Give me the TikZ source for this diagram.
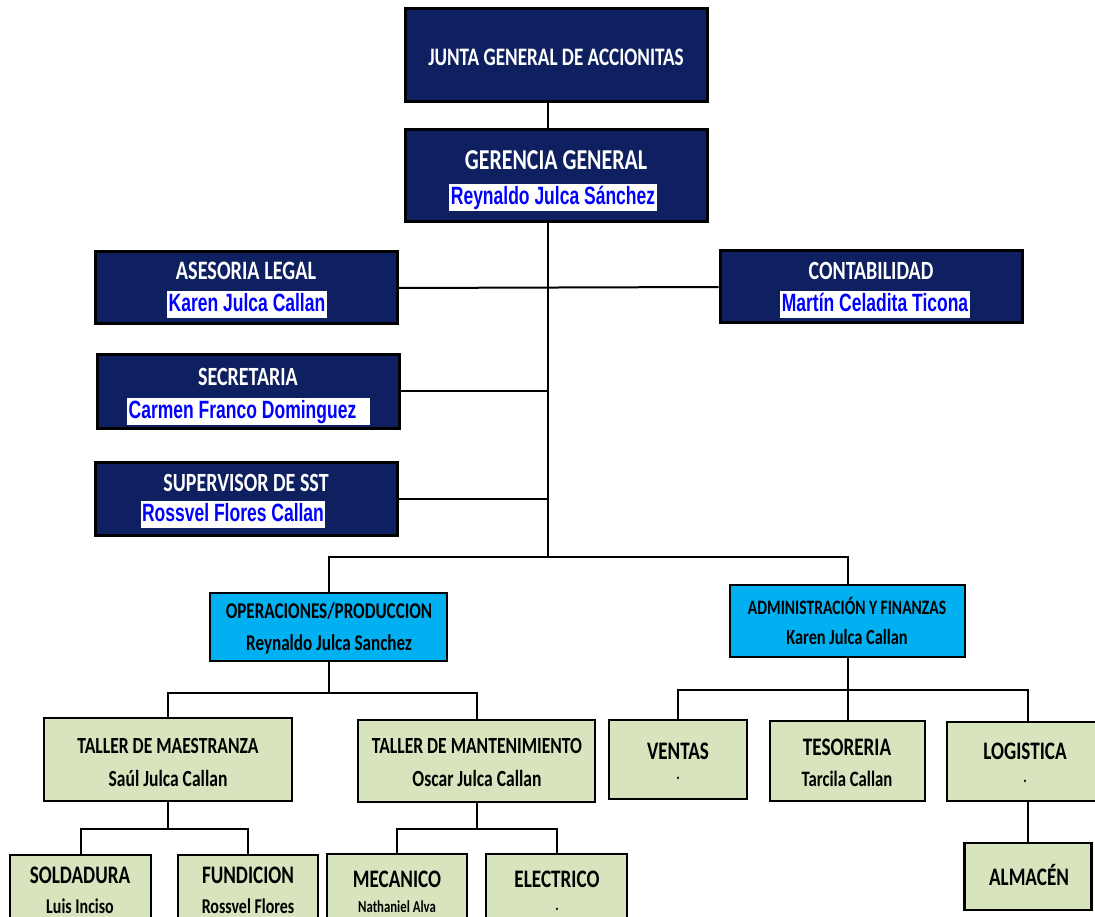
\documentclass[tikz,border=0pt]{standalone}
\usepackage{fontspec}
\usetikzlibrary{calc}
\newfontfamily\calfont[FakeStretch=0.76]{Carlito}
\newfontfamily\arfont[FakeStretch=0.7]{Liberation Sans}
\definecolor{navy}{RGB}{14,32,96}
\definecolor{opblue}{RGB}{0,176,240}
\definecolor{sage}{RGB}{215,228,189}
\tikzset{
	navybox/.style={draw=black, line width=3pt, fill=navy, inner sep=0pt},
	bluebox/.style={draw=black, line width=2.2pt, fill=opblue, inner sep=0pt},
	sagebox/.style={draw=black, line width=2.2pt, fill=sage, inner sep=0pt},
	ttl/.style={anchor=base, inner sep=0pt, font=\calfont\bfseries\fontsize{#1}{#1}\selectfont},
	bname/.style={anchor=base, inner sep=1.5pt, fill=white, text=blue, text height=19pt, text depth=5pt,
			font=\arfont\bfseries\fontsize{25}{25}\selectfont},
	link/.style={draw=black, line width=2pt}
}

\begin{document}
\begin{tikzpicture}[x=1pt, y=-1pt]
		\path[use as bounding box, fill=white] (0,0) rectangle (1095,917);
		\clip (0,0) rectangle (1095,917);
		% Boxes
		\node[navybox, minimum width=302pt, minimum height=93pt] (jun) at (556,55.5) {};
		\node[navybox, minimum width=302pt, minimum height=92pt] (ger) at (556,176) {};
		\node[navybox, minimum width=302pt, minimum height=72pt] (ase) at (246,288) {};
		\node[navybox, minimum width=302pt, minimum height=72pt] (con) at (871,287) {};
		\node[navybox, minimum width=302pt, minimum height=74pt] (sec) at (248,391) {};
		\node[navybox, minimum width=302pt, minimum height=73pt] (sup) at (246,498.5) {};
		\node[bluebox, minimum width=237pt, minimum height=68pt] (ope) at (328.5,627) {};
		\node[bluebox, minimum width=235pt, minimum height=72pt] (adm) at (847.5,621) {};
		\node[sagebox, minimum width=248pt, minimum height=83pt] (tma) at (168,759.5) {};
		\node[sagebox, minimum width=237pt, minimum height=82pt] (tmt) at (476.5,761) {};
		\node[sagebox, minimum width=141pt, minimum height=90pt] (sol) at (80.5,900) {};
		\node[sagebox, minimum width=140pt, minimum height=90pt] (fun) at (248,900) {};
		\node[sagebox, minimum width=140pt, minimum height=90pt] (mec) at (397,899) {};
		\node[sagebox, minimum width=141pt, minimum height=90pt] (ele) at (556.5,899) {};
		\node[sagebox, minimum width=138pt, minimum height=79pt] (ven) at (678,759.5) {};
		\node[sagebox, minimum width=155pt, minimum height=80pt] (tes) at (847.5,761) {};
		\node[sagebox, minimum width=162pt, minimum height=79pt] (log) at (1028,761.5) {};
		\node[sagebox, minimum width=127pt, minimum height=67pt] (alm) at (1028,876.5) {};
		% Texts
		\node[ttl=25.2, text=white] (jun-t) at (556,66) {JUNTA GENERAL DE ACCIONITAS};
		\node[ttl=28.8, text=white] (ger-t) at (556,170) {GERENCIA GENERAL};
		\node[bname] (ger-n) at (553,205) {Reynaldo Julca Sánchez};
		\node[ttl=26.6, text=white] (ase-t) at (246,280) {ASESORIA LEGAL};
		\node[bname] (ase-n) at (247,312) {Karen Julca Callan};
		\node[ttl=26.3, text=white] (con-t) at (871,280) {CONTABILIDAD};
		\node[bname] (con-n) at (875,312) {Martín Celadita Ticona};
		\node[ttl=26.3, text=white] (sec-t) at (248,385) {SECRETARIA};
		\node[bname] (sec-n) at (248.5,418) {Carmen Franco Dominguez\kern12pt};
		\node[ttl=26.3, text=white] (sup-t) at (246,491) {SUPERVISOR DE SST};
		\node[bname] (sup-n) at (233,521) {Rossvel Flores Callan};
		\node[ttl=22.5] (ope-t) at (329,618) {OPERACIONES/PRODUCCION};
		\node[ttl=22.5] (ope-n) at (329,650) {Reynaldo Julca Sanchez};
		\node[ttl=20.5] (adm-t) at (847,614) {ADMINISTRACIÓN Y FINANZAS};
		\node[ttl=21.5] (adm-n) at (847,644) {Karen Julca Callan};
		\node[ttl=23.1] (tma-t) at (168,753) {TALLER DE MAESTRANZA};
		\node[ttl=23.1] (tma-n) at (168,786) {Saúl Julca Callan};
		\node[ttl=23.1] (tmt-t) at (477,753) {TALLER DE MANTENIMIENTO};
		\node[ttl=23.1] (tmt-n) at (477,786) {Oscar Julca Callan};
		\node[ttl=25.2] (sol-t) at (80,883) {SOLDADURA};
		\node[ttl=21] (sol-n) at (80,913) {Luis Inciso};
		\node[ttl=25.2] (fun-t) at (248,883) {FUNDICION};
		\node[ttl=21] (fun-n) at (248,913) {Rossvel Flores};
		\node[ttl=25.2] (mec-t) at (397,887) {MECANICO};
		\node[ttl=16.8] (mec-n) at (397,912) {Nathaniel Alva};
		\node[ttl=25.2] (ele-t) at (557,887) {ELECTRICO};
		\node[ttl=16.8] (ele-n) at (557,910) {.};
		\node[ttl=25.2] (ven-t) at (678,759) {VENTAS};
		\node[ttl=16.8] (ven-n) at (678,779) {.};
		\node[ttl=25.2] (tes-t) at (847,755) {TESORERIA};
		\node[ttl=22] (tes-n) at (847,786) {Tarcila Callan};
		\node[ttl=25.2] (log-t) at (1025,759) {LOGISTICA};
		\node[ttl=16.8] (log-n) at (1025,782) {.};
		\node[ttl=25.2] (alm-t) at (1029,885) {ALMACÉN};
		% Connectors
		\coordinate (spine) at (548,557);
		\draw[link] (jun.south -| spine) -- (ger.north -| spine);
		\draw[link] (ger.south -| spine) -- (spine);
		\draw[link] (ase.east) -- (con.west);
		\draw[link] (sec.east) -- (sec.east -| spine);
		\draw[link] (sup.east) -- (sup.east -| spine);
		\draw[link] (ope.north) |- (spine) -| (adm.north);
		\draw[link] (ope.south) -- ++(0,31) coordinate (busop);
		\draw[link] (tma.north) |- (busop) -| (tmt.north);
		\draw[link] (tma.south) -- ++(0,27) coordinate (busma);
		\draw[link] (sol.north) |- (busma) -| (fun.north);
		\draw[link] (tmt.south) -- ++(0,26) coordinate (busmt);
		\draw[link] (mec.north) |- (busmt) -| (ele.north);
		\draw[link] (adm.south) -- (tes.north);
		\draw[link] (ven.north) |- (adm.south |- 0,690) -| (log.north);
		\draw[link] (log.south) -- (alm.north);
	\end{tikzpicture}
\end{document}
